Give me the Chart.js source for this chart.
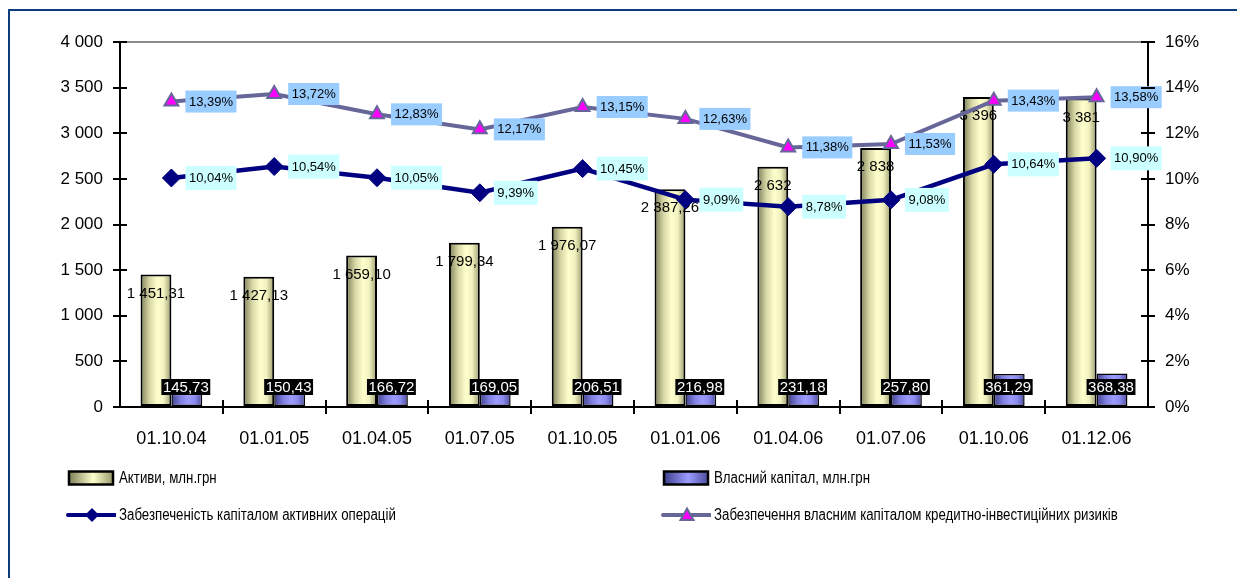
<!DOCTYPE html>
<html lang="uk">
<head>
<meta charset="utf-8">
<title>Активи та власний капітал</title>
<script src="https://cdn.jsdelivr.net/npm/chart.js@4/dist/chart.umd.min.js"></script>
<style>
  html, body { margin: 0; padding: 0; background: #fff; }
  #wrap { position: relative; width: 1237px; height: 578px; overflow: hidden; }
  #frame { position: absolute; left: 8px; top: 9px; width: 1300px; height: 700px;
           border-left: 2px solid #0d3c7c; border-top: 2px solid #0d3c7c; box-sizing: border-box; pointer-events: none; }
  canvas { position: absolute; left: 0; top: 0; }
  .lg { position: absolute; display: flex; align-items: center; font-family: "Liberation Sans", Arial, sans-serif;
        color: #000; white-space: nowrap; }
  .lg svg { display: block; margin-right: 3px; }
  .lg span { display: inline-block; font-size: 16px; transform: scaleX(0.83); transform-origin: left center; }
</style>
</head>
<body>
<div id="wrap">
  <canvas id="c" width="1237" height="578"></canvas>
  <div id="frame"></div>
  <div id="legend"></div>
</div>
<script>
// Reporting dates
const dates = ['01.10.04', '01.01.05', '01.04.05', '01.07.05', '01.10.05',
               '01.01.06', '01.04.06', '01.07.06', '01.10.06', '01.12.06'];

// Assets and own capital, mln UAH (left axis)
const assets = [1451.31, 1427.13, 1659.10, 1799.34, 1976.07, 2387.26, 2632, 2838, 3396, 3381];
const ownCapital = [145.73, 150.43, 166.72, 169.05, 206.51, 216.98, 231.18, 257.80, 361.29, 368.38];

// Capital adequacy ratios, % (right axis)
const activeOpsCoverage = [10.04, 10.54, 10.05, 9.39, 10.45, 9.09, 8.78, 9.08, 10.64, 10.90];
const creditRiskCoverage = [13.39, 13.72, 12.83, 12.17, 13.15, 12.63, 11.38, 11.53, 13.43, 13.58];

// Axis ticks
const leftTicks = [0, 500, 1000, 1500, 2000, 2500, 3000, 3500, 4000];
const rightTicks = [0, 2, 4, 6, 8, 10, 12, 14, 16];

const seriesNames = ['Активи, млн.грн', 'Власний капітал, млн.грн',
                     'Забезпеченість капіталом активних операцій',
                     'Забезпечення власним капіталом кредитно-інвестиційних ризиків'];

const FONT = '"Liberation Sans", Arial, sans-serif';

function groupDigits(s) { return s.replace(/\B(?=(\d{3})+(?!\d))/g, ' '); }
function fmtNum(v, dec) {
  const parts = v.toFixed(dec).split('.');
  return groupDigits(parts[0]) + (parts[1] ? ',' + parts[1] : '');
}
function fmtAsset(v) { return Number.isInteger(v) ? fmtNum(v, 0) : fmtNum(v, 2); }
function fmtPct(v) { return v.toFixed(2).replace('.', ',') + '%'; }

// Cylinder-like horizontal shading for each bar
const barShades = [
  ['#7d7d58', '#d9d9a8', '#ffffcc', '#f2f2c0', '#98986c'],
  ['#3f3f8c', '#7f7fe0', '#9c9cff', '#8c8cf0', '#4d4d9e']
];
const shadePlugin = {
  id: 'shade',
  beforeDatasetDraw(chart, args) {
    const ds = chart.data.datasets[args.index];
    if (ds.type !== 'bar') return;
    const stops = barShades[args.index];
    const ctx = chart.ctx;
    args.meta.data.forEach(el => {
      const l = el.x - el.width / 2, r = el.x + el.width / 2;
      const g = ctx.createLinearGradient(l, 0, r, 0);
      g.addColorStop(0, stops[0]); g.addColorStop(0.3, stops[1]);
      g.addColorStop(0.55, stops[2]); g.addColorStop(0.75, stops[3]); g.addColorStop(1, stops[4]);
      el.options = Object.assign({}, el.options, { backgroundColor: g });
    });
  }
};

// Value labels. Bar labels go on once both bar series are drawn
// (the asset bars are painted last), line labels right after their line.
function drawBarLabels(chart) {
  const ctx = chart.ctx;
  const base = chart.scales.y.getPixelForValue(0);
  ctx.save();
  ctx.textAlign = 'center';
  ctx.textBaseline = 'middle';
  ctx.font = '15px ' + FONT;
  chart.getDatasetMeta(0).data.forEach((el, k) => {
    ctx.fillStyle = '#000';
    ctx.fillText(fmtAsset(assets[k]), el.x, el.y + 19);
  });
  chart.getDatasetMeta(1).data.forEach((el, k) => {
    const t = fmtNum(ownCapital[k], 2);
    const w = ctx.measureText(t).width + 3;
    const cy = base - 20;
    ctx.fillStyle = '#000';
    ctx.fillRect(el.x - w / 2 - 1, cy - 8, w, 16);
    ctx.fillStyle = '#fff';
    ctx.fillText(t, el.x - 1, cy + 0.5);
  });
  ctx.restore();
}
function drawLineLabels(chart, i, meta) {
  const ctx = chart.ctx;
  const ds = chart.data.datasets[i];
  ctx.save();
  ctx.textAlign = 'left';
  ctx.textBaseline = 'middle';
  ctx.font = '13px ' + FONT;
  meta.data.forEach((el, k) => {
    const t = fmtPct(ds.data[k]);
    const w = ctx.measureText(t).width + 7;
    const h = i === 2 ? 24 : 22;
    const x0 = el.x + 14;
    ctx.fillStyle = i === 2 ? '#ccffff' : '#99ccff';
    ctx.fillRect(x0, el.y - h / 2, w, h);
    ctx.fillStyle = '#000';
    ctx.fillText(t, x0 + 3.5, el.y + 0.5);
  });
  ctx.restore();
}
const labelPlugin = {
  id: 'valueLabels',
  afterDatasetDraw(chart, args) {
    if (args.index === 0) drawBarLabels(chart);
    else if (args.index >= 2) drawLineLabels(chart, args.index, args.meta);
  }
};

// Tick marks that cross the axis lines
const crossTicks = {
  id: 'crossTicks',
  afterDraw(chart) {
    const ctx = chart.ctx;
    const { x, y, y1 } = chart.scales;
    ctx.save();
    ctx.strokeStyle = '#000';
    ctx.lineWidth = 2;
    ctx.beginPath();
    y.ticks.forEach((t, k) => {
      const p = Math.round(y.getPixelForTick(k));
      ctx.moveTo(y.right - 7, p); ctx.lineTo(y.right + 7, p);
    });
    y1.ticks.forEach((t, k) => {
      const p = Math.round(y1.getPixelForTick(k));
      ctx.moveTo(y1.left - 7, p); ctx.lineTo(y1.left + 7, p);
    });
    for (let k = 0; k < dates.length - 1; k++) {
      const p = Math.round((x.getPixelForValue(k) + x.getPixelForValue(k + 1)) / 2);
      ctx.moveTo(p, x.top - 7); ctx.lineTo(p, x.top + 7);
    }
    ctx.stroke();
    ctx.restore();
  }
};

const chart = new Chart(document.getElementById('c'), {
  data: {
    labels: dates,
    datasets: [
      { type: 'bar', label: seriesNames[0], data: assets, yAxisID: 'y', order: 2,
        backgroundColor: '#ffffcc', borderColor: '#000', borderWidth: 2, borderSkipped: false,
        barPercentage: 1, categoryPercentage: 0.6 },
      { type: 'bar', label: seriesNames[1], data: ownCapital, yAxisID: 'y', order: 2,
        backgroundColor: '#9999ff', borderColor: '#000', borderWidth: 1.5, borderSkipped: false,
        barPercentage: 1, categoryPercentage: 0.6 },
      { type: 'line', label: seriesNames[2], data: activeOpsCoverage, yAxisID: 'y1', order: 0,
        borderColor: '#000080', borderWidth: 4.5, tension: 0,
        pointStyle: 'rectRot', pointRadius: 9, pointBackgroundColor: '#000080',
        pointBorderColor: '#000080', pointBorderWidth: 1 },
      { type: 'line', label: seriesNames[3], data: creditRiskCoverage, yAxisID: 'y1', order: 1,
        borderColor: '#666699', borderWidth: 4, tension: 0,
        pointStyle: 'triangle', pointRadius: 8, pointBackgroundColor: '#ff00ff',
        pointBorderColor: '#666699', pointBorderWidth: 2 }
    ]
  },
  options: {
    responsive: false,
    animation: false,
    events: [],
    layout: { padding: { left: 0, right: 0, top: 42, bottom: 121 } },
    plugins: { legend: { display: false }, tooltip: { enabled: false } },
    scales: {
      x: {
        offset: true,
        grid: { display: false },
        border: { display: true, color: '#000', width: 2 },
        ticks: { color: '#000', font: { family: FONT, size: 18 }, padding: 13, maxRotation: 0 },
        afterFit(s) { s.height = 50; }
      },
      y: {
        position: 'left', min: 0, max: 4000,
        afterBuildTicks(s) { s.ticks = leftTicks.map(v => ({ value: v })); },
        grid: { drawTicks: false, lineWidth: 2,
                color: c => (c.tick && c.tick.value === 4000) ? '#8c8c8c' : 'rgba(0,0,0,0)' },
        border: { display: true, color: '#000', width: 2 },
        ticks: { color: '#000', font: { family: FONT, size: 17 }, padding: 17,
                 callback: v => groupDigits(String(v)) },
        afterFit(s) { s.width = 120; }
      },
      y1: {
        position: 'right', min: 0, max: 16,
        afterBuildTicks(s) { s.ticks = rightTicks.map(v => ({ value: v })); },
        grid: { display: false, drawTicks: false },
        border: { display: true, color: '#000', width: 2 },
        ticks: { color: '#000', font: { family: FONT, size: 17 }, padding: 17,
                 callback: v => v + '%' },
        afterFit(s) { s.width = 89; }
      }
    }
  },
  plugins: [shadePlugin, labelPlugin, crossTicks]
});

// Legend built from the chart's datasets
(function buildLegend() {
  const host = document.getElementById('legend');
  const pos = [[66, 469], [661, 469], [66, 506], [661, 506]];
  const swatch = [
    '<svg width="50" height="16"><defs><linearGradient id="ga"><stop offset="0" stop-color="#7d7d58"/><stop offset="0.55" stop-color="#ffffcc"/><stop offset="1" stop-color="#98986c"/></linearGradient></defs><rect x="3" y="1.5" width="44" height="13" fill="url(#ga)" stroke="#000" stroke-width="2.5"/></svg>',
    '<svg width="50" height="16"><defs><linearGradient id="gb"><stop offset="0" stop-color="#3f3f8c"/><stop offset="0.55" stop-color="#9c9cff"/><stop offset="1" stop-color="#4d4d9e"/></linearGradient></defs><rect x="3" y="1.5" width="44" height="13" fill="url(#gb)" stroke="#000" stroke-width="2.5"/></svg>',
    '<svg width="50" height="18"><line x1="2" y1="9" x2="50" y2="9" stroke="#000080" stroke-width="4" stroke-linecap="round"/><polygon points="26,2 33,9 26,16 19,9" fill="#000080"/></svg>',
    '<svg width="50" height="18"><line x1="2" y1="9" x2="50" y2="9" stroke="#666699" stroke-width="4" stroke-linecap="round"/><polygon points="26,2.5 32.5,14 19.5,14" fill="#ff00ff" stroke="#666699" stroke-width="2"/></svg>'
  ];
  chart.data.datasets.forEach((ds, i) => {
    const d = document.createElement('div');
    d.className = 'lg';
    d.style.left = pos[i][0] + 'px';
    d.style.top = pos[i][1] + 'px';
    d.innerHTML = swatch[i] + '<span>' + ds.label + '</span>';
    host.appendChild(d);
  });
})();
</script>
</body>
</html>
